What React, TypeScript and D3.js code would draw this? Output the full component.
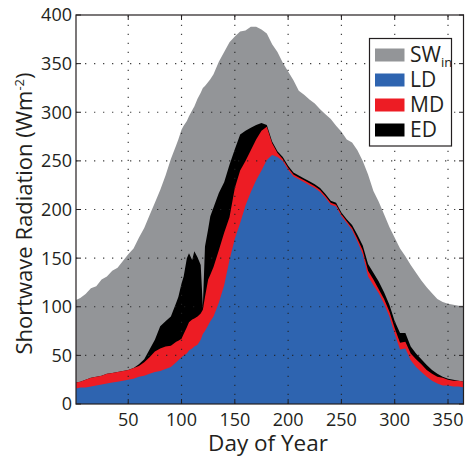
import React from "react";
import * as d3 from "d3";

const DAYS = [1,5,10,15,20,25,30,35,40,45,50,55,60,65,70,75,80,85,90,
  95,97,100,102,105,107,110,112,115,118,120,122,125,127,130,
  135,140,145,150,155,160,165,170,175,180,185,190,195,200,205,210,215,220,225,230,235,240,245,250,255,260,265,270,275,280,285,290,295,300,305,310,315,320,325,330,335,340,345,350,355,360,365];

const SW_IN = [107,109,113,119,121,128,131,137,140,147,154,160,171,181,194,207,220,235,252,
  266,272,282,286,291,296,302,306,314,320,325,327,331,334,339,
  352,362,372,378,383,384,388,388,385,381,370,362,351,342,333,322,318,313,309,303,298,293,286,280,272,269,261,250,236,219,208,195,182,171,160,152,143,135,127,120,114,108,105,103,102,101,101];

const ED = [22,23,25,27,28,29,31,32,33,34,35,37,41,46,56,66,80,85,90,
  104,110,124,131,150,155,148,157,151,143,100,162,180,193,202,
  217,228,246,262,277,281,284,287,289,287,270,260,254,245,238,235,232,229,226,222,216,209,207,197,190,184,174,163,144,135,126,115,102,85,73,73,59,52,46,40,35,31,28,26,25,24,23];

const MD = [22,23,25,27,28,29,31,32,33,34,35,37,39,43,48,54,57,59,60,
  64,65,67,72,79,84,87,88,90,93,97,110,128,133,141,
  158,176,192,222,240,250,261,272,281,285,268,258,252,243,236,233,230,227,224,220,214,207,205,195,188,181,170,158,137,128,118,108,95,78,63,64,52,46,41,35,31,28,27,25,24,24,23];

const LD = [16,17,17,18,19,20,21,22,23,24,25,26,28,29,31,33,34,36,38,
  43,45,48,50,52,55,57,59,61,66,72,75,81,85,90,
  104,122,148,170,186,204,218,230,240,251,256,254,250,241,234,231,228,225,222,218,212,205,203,193,186,179,167,154,131,122,114,103,90,72,56,57,45,38,33,28,24,21,19,19,18,18,17];

const X_TICKS = [50,100,150,200,250,300,350];
const Y_TICKS = [0,50,100,150,200,250,300,350,400];
const GRID_X = [50,100,150,200,250,300,350];
const GRID_Y = [50,100,150,200,250,300,350];

const SERIES = [
  { key: "SW", values: SW_IN, color: "#939598" },
  { key: "ED", values: ED, color: "#000000" },
  { key: "MD", values: MD, color: "#ed1c24" },
  { key: "LD", values: LD, color: "#2e64b0" },
];

const LEGEND = [
  { label: "SW", sub: "in", color: "#939598" },
  { label: "LD", sub: "", color: "#2e64b0" },
  { label: "MD", sub: "", color: "#ed1c24" },
  { label: "ED", sub: "", color: "#000000" },
];

const W = 465, H = 458;
const L = 76, R = 464, T = 15, B = 404;
const FONT = "'Open Sans', 'DejaVu Sans', sans-serif";
const TXT = "#231f20";

export default function App() {
  const x = d3.scaleLinear().domain([1, 365]).range([L, R]);
  const y = d3.scaleLinear().domain([0, 400]).range([B, T]);

  const area = (vals: number[]) =>
    d3.area<number>()
      .x((_, i) => x(DAYS[i]))
      .y0(y(0))
      .y1((d) => y(d))(vals) || "";

  const tick = 5;

  return (
    <svg width={W} height={H} style={{ position: "absolute", left: 0, top: 0, background: "#fff" }} fontFamily={FONT}>
      {SERIES.map((s) => (
        <path key={s.key} d={area(s.values)} fill={s.color} stroke="none" />
      ))}
      <g stroke="#222" strokeWidth={1.2} strokeDasharray="1.3,7.7" opacity={0.85}>
        {GRID_X.map((v) => (
          <line key={"gx" + v} x1={x(v)} x2={x(v)} y1={B} y2={T} />
        ))}
        {GRID_Y.map((v) => (
          <line key={"gy" + v} x1={L} x2={R} y1={y(v)} y2={y(v)} />
        ))}
      </g>
      <g stroke={TXT} strokeWidth={1}>
        {X_TICKS.map((v) => (
          <g key={"tx" + v}>
            <line x1={x(v)} x2={x(v)} y1={B} y2={B - tick} />
            <line x1={x(v)} x2={x(v)} y1={T} y2={T + tick} />
          </g>
        ))}
        {Y_TICKS.map((v) => (
          <g key={"ty" + v}>
            <line x1={L} x2={L + tick} y1={y(v)} y2={y(v)} />
            <line x1={R} x2={R - tick} y1={y(v)} y2={y(v)} />
          </g>
        ))}
      </g>
      <rect x={L} y={T} width={R - L - 0.5} height={B - T} fill="none" stroke={TXT} strokeWidth={1.2} />
      <g fill={TXT} fontSize={18}>
        {X_TICKS.map((v) => (
          <text key={"lx" + v} x={x(v)} y={426} textAnchor="middle">{v}</text>
        ))}
        {Y_TICKS.map((v) => (
          <text key={"ly" + v} x={72} y={y(v)} dy="0.36em" textAnchor="end">{v}</text>
        ))}
      </g>
      <text x={(L + R) / 2 - 2} y={451} textAnchor="middle" fontSize={22.5} fill={TXT}>Day of Year</text>
      <text transform={`translate(32,213.5) rotate(-90)`} textAnchor="middle" fontSize={22} fill={TXT}>
        Shortwave Radiation (Wm<tspan dy="-8" fontSize={13}>-2</tspan><tspan dy="8">)</tspan>
      </text>
      <rect x={369.5} y={38.5} width={82} height={107.5} fill="#fff" stroke={TXT} strokeWidth={1.2} />
      {LEGEND.map((e, i) => {
        const cy = 55 + i * 25;
        return (
          <g key={e.label}>
            <rect x={375} y={cy - 6.5} width={29.5} height={13} fill={e.color} />
            <text x={410} y={cy + 7} fontSize={21} fill={TXT}>
              {e.label}
              {e.sub ? <tspan dy="5" fontSize={13}>{e.sub}</tspan> : null}
            </text>
          </g>
        );
      })}
    </svg>
  );
}
